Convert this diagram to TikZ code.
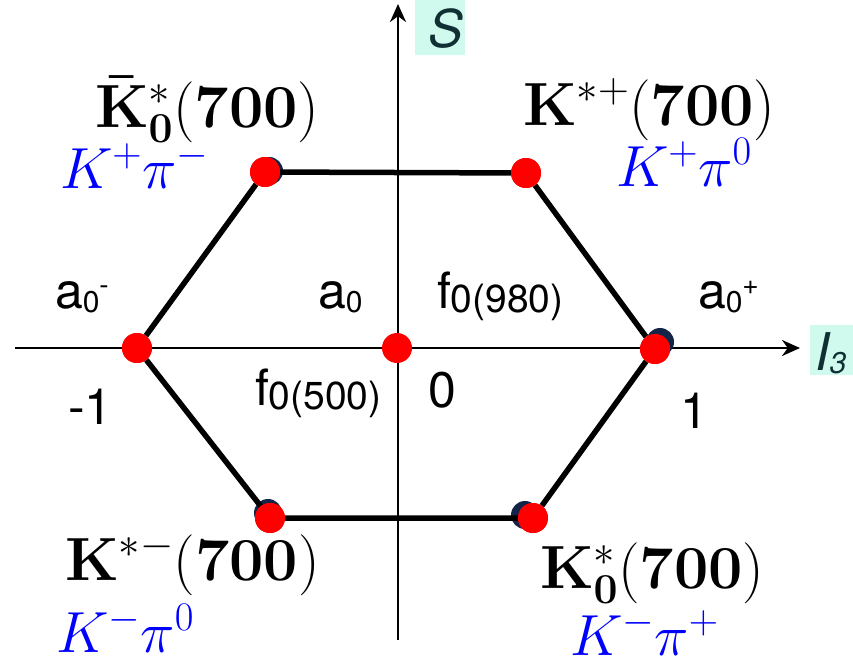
\RequirePackage{fix-cm}
\documentclass[tikz,border=0pt]{standalone}
\usepackage[no-math]{fontspec}
\setsansfont{TeX Gyre Heros}
\usetikzlibrary{arrows.meta}
\definecolor{boxcyan}{RGB}{208,250,238}
\definecolor{axislbl}{RGB}{16,48,52}
\definecolor{dotshade}{RGB}{18,36,72}
\newcommand{\lsub}[1]{\raisebox{-4pt}{\fontsize{30}{34}\selectfont #1}}
\newcommand{\fsub}[1]{\raisebox{-4pt}{\fontsize{39}{43}\selectfont #1}}
\newcommand{\lsup}[1]{\raisebox{14pt}{\fontsize{28}{32}\selectfont #1}}
\tikzset{
  meson/.style={circle,fill=red,inner sep=0pt,minimum size=30pt},
  shade dot/.style={circle,fill=dotshade,inner sep=0pt,minimum size=28pt},
  edge/.style={line width=5.5pt},
  axis/.style={line width=2.8pt,-{Stealth[length=18pt,width=16pt]}},
  state/.style={inner sep=0pt,outer sep=0pt,anchor=base west,font=\fontsize{61}{66}\selectfont},
  decay/.style={inner sep=0pt,outer sep=0pt,anchor=base west,text=blue,font=\fontsize{58}{64}\selectfont},
  lbl/.style={inner sep=0pt,outer sep=0pt,anchor=base west,font=\sffamily\fontsize{50}{56}\selectfont},
  axislabel/.style={inner sep=0pt,anchor=base west,text=axislbl,font=\sffamily\itshape\fontsize{52}{56}\selectfont},
}
\begin{document}
\begin{tikzpicture}[x=1pt,y=-1pt]
\path[use as bounding box] (0,0) rectangle (853,667);
% axes
\path[fill=boxcyan] (415,0) rectangle (465,55);
\path[fill=boxcyan] (810,325) rectangle (853,375);
\coordinate (sbot) at (398,640);
\coordinate (stop) at (398,4);
\coordinate (ileft) at (15,348);
\coordinate (iright) at (800,348);
\draw[axis] (sbot) -- (stop);
\draw[axis] (ileft) -- (iright);
\node[axislabel] (slbl) at (428,47) {S};
\node[axislabel] (ilbl) at (815,370) {I\raisebox{-3pt}{\fontsize{30}{34}\selectfont 3}};
% shadows behind some dots
\node[shade dot] at (269,171) {};
\node[shade dot] at (660,342) {};
\node[shade dot] at (268,513) {};
\node[shade dot] at (525,515) {};
% hexagon
\node[meson] (kbar) at (265,172) {};
\node[meson] (kplus) at (526,173) {};
\node[meson] (aminus) at (137,348) {};
\node[meson] (center) at (397,348) {};
\node[meson] (aplus) at (655,349) {};
\node[meson] (kminus) at (270,518) {};
\node[meson] (kzero) at (533,518) {};
\draw[edge] (kbar) -- (kplus) -- (aplus) -- (kzero) -- (kminus) -- (aminus) -- (kbar);
\node[meson] at (265,172) {};
\node[meson] at (526,173) {};
\node[meson] at (137,348) {};
\node[meson] at (655,349) {};
\node[meson] at (270,518) {};
\node[meson] at (533,518) {};
% states
\node[state] (kbarname) at (95,127) {$\mathbf{\bar{K}_0^*}(\mathbf{700})$};
\node[decay] (kbardecay) at (60,188) {$K^+\pi^-$};
\node[state] (kplusname) at (523,125) {$\mathbf{K}^{*+}(\mathbf{700})$};
\node[decay] (kplusdecay) at (616,186) {$K^+\pi^0$};
\node[state] (kminusname) at (65,580) {$\mathbf{K}^{*-}(\mathbf{700})$};
\node[decay] (kminusdecay) at (56,652) {$K^-\pi^0$};
\node[state] (kzeroname) at (540,588) {$\mathbf{K_0^*}(\mathbf{700})$};
\node[decay] (kzerodecay) at (570,655) {$K^-\pi^+$};
% sans labels
\node[lbl] (amlbl) at (55,308) {a\lsub{0}\lsup{-}};
\node[lbl] (a0lbl) at (318,308) {a\lsub{0}};
\node[lbl] (f980) at (437,308) {f\fsub{0(980)}};
\node[lbl] (aplbl) at (698,308) {a\lsub{0}\lsup{+}};
\node[lbl] (f500) at (255,405) {f\fsub{0(500)}};
\node[lbl] (mone) at (68,424) {-1};
\node[lbl] (zero) at (428,407) {0};
\node[lbl] (one) at (680,428) {1};
\end{tikzpicture}
\end{document}
